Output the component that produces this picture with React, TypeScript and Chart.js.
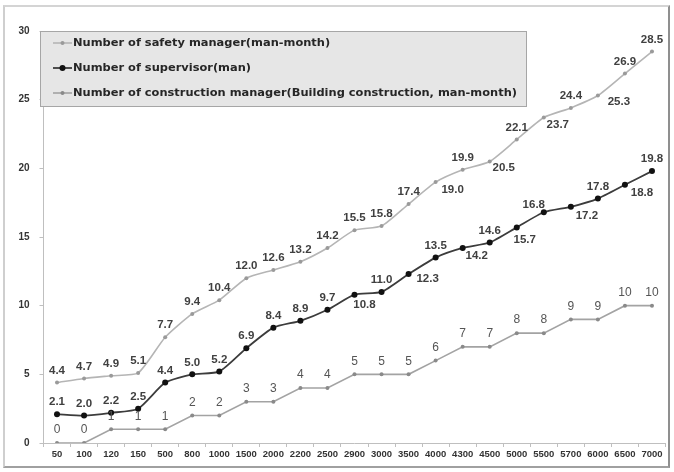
import React, { useEffect, useRef } from "react";
import { Chart, registerables } from "chart.js";

Chart.register(...registerables);

const categories = [
  "50", "100", "120", "150", "500", "800", "1000", "1500", "2000", "2200", "2500", "2900",
  "3000", "3500", "4000", "4300", "4500", "5000", "5500", "5700", "6000", "6500", "7000",
];
const safetyManager = [
  4.4, 4.7, 4.9, 5.1, 7.7, 9.4, 10.4, 12.0, 12.6, 13.2, 14.2, 15.5,
  15.8, 17.4, 19.0, 19.9, 20.5, 22.1, 23.7, 24.4, 25.3, 26.9, 28.5,
];
const supervisor = [
  2.1, 2.0, 2.2, 2.5, 4.4, 5.0, 5.2, 6.9, 8.4, 8.9, 9.7, 10.8,
  11.0, 12.3, 13.5, 14.2, 14.6, 15.7, 16.8, 17.2, 17.8, 18.8, 19.8,
];
const constructionManager = [
  0, 0, 1, 1, 1, 2, 2, 3, 3, 4, 4, 5,
  5, 5, 6, 7, 7, 8, 8, 9, 9, 10, 10,
];
const seriesNames = [
  "Number of safety manager(man-month)",
  "Number of supervisor(man)",
  "Number of construction manager(Building construction, man-month)",
];
const yMin = 0;
const yMax = 30;
const yStep = 5;

// label placement (style, not data): offsets [dx, dy] of label centre from point
const safetyOffsets: Record<number, [number, number]> = { 14: [17, 8], 16: [14, 6], 18: [14, 7], 20: [21, 6] };
const supervisorOffsets: Record<number, [number, number]> = {
  11: [10, 10], 13: [19, 5], 15: [14, 8], 17: [8, 12], 19: [16, 9], 21: [17, 8], 18: [-10, -7],
};
const FONT = "'Liberation Sans', Arial, sans-serif";

const seriesStyle = [
  { line: "#b5b5b5", point: "#9a9a9a", radius: 2, width: 1.6, tension: 0.2, labelFont: `bold 11.5px ${FONT}`, labelColor: "#404040", digits: 1, offsets: safetyOffsets, defOff: [0, -12] as [number, number] },
  { line: "#3c3c3c", point: "#111111", radius: 3, width: 1.8, tension: 0.2, labelFont: `bold 11.5px ${FONT}`, labelColor: "#404040", digits: 1, offsets: supervisorOffsets, defOff: [0, -12] as [number, number] },
  { line: "#a3a3a3", point: "#8a8a8a", radius: 2, width: 1.6, tension: 0, labelFont: `12px ${FONT}`, labelColor: "#555555", digits: 0, offsets: {} as Record<number, [number, number]>, defOff: [0, -13] as [number, number] },
];

const labelPlugin = {
  id: "pointLabels",
  afterDatasetsDraw(chart: any) {
    const ctx = chart.ctx;
    ctx.save();
    ctx.textAlign = "center";
    ctx.textBaseline = "middle";
    chart.data.datasets.forEach((ds: any, di: number) => {
      const st = seriesStyle[di];
      const meta = chart.getDatasetMeta(di);
      ctx.font = st.labelFont;
      ctx.fillStyle = st.labelColor;
      meta.data.forEach((pt: any, i: number) => {
        const v = ds.data[i] as number;
        const off = st.offsets[i] || st.defOff;
        ctx.fillText(v.toFixed(st.digits), pt.x + off[0], pt.y + off[1]);
      });
    });
    ctx.restore();
  },
};

const legendPlugin = {
  id: "boxLegend",
  afterDraw(chart: any) {
    const ctx = chart.ctx;
    ctx.save();
    const x0 = 40, y0 = 31, w = 487, h = 76;
    ctx.fillStyle = "#e6e6e6";
    ctx.fillRect(x0, y0, w, h);
    ctx.strokeStyle = "#a6a6a6";
    ctx.lineWidth = 1;
    ctx.strokeRect(x0 + 0.5, y0 + 0.5, w - 1, h - 1);
    const rows = [43, 68, 93];
    ctx.font = `bold 11px 'DejaVu Sans', sans-serif`;
    const longest = ctx.measureText(seriesNames[2]).width;
    const sx = 444 / longest;
    seriesNames.forEach((name, i) => {
      const st = seriesStyle[i];
      const y = rows[i];
      ctx.strokeStyle = st.line;
      ctx.lineWidth = st.width;
      ctx.beginPath();
      ctx.moveTo(53, y);
      ctx.lineTo(72, y);
      ctx.stroke();
      ctx.fillStyle = st.point;
      ctx.beginPath();
      ctx.arc(62.5, y, st.radius, 0, Math.PI * 2);
      ctx.fill();
      ctx.fillStyle = "#262626";
      ctx.textAlign = "left";
      ctx.textBaseline = "middle";
      ctx.save();
      ctx.translate(73, y + 0.5);
      ctx.scale(sx, 1);
      ctx.fillText(name, 0, 0);
      ctx.restore();
    });
    ctx.restore();
  },
};

export default function App() {
  const ref = useRef<HTMLCanvasElement>(null);
  useEffect(() => {
    if (!ref.current) return;
    const series = [safetyManager, supervisor, constructionManager];
    const chart = new Chart(ref.current, {
      type: "line",
      data: {
        labels: categories,
        datasets: series.map((d, i) => ({
          label: seriesNames[i],
          data: d,
          borderColor: seriesStyle[i].line,
          borderWidth: seriesStyle[i].width,
          pointRadius: seriesStyle[i].radius,
          pointBackgroundColor: seriesStyle[i].point,
          pointBorderColor: seriesStyle[i].point,
          pointBorderWidth: 0,
          tension: seriesStyle[i].tension,
          fill: false,
        })),
      },
      options: {
        responsive: false,
        animation: false,
        devicePixelRatio: 1,
        layout: { padding: { left: 0, right: 8.5, top: 31, bottom: 9 } },
        plugins: { legend: { display: false }, tooltip: { enabled: false } },
        scales: {
          x: {
            offset: true,
            grid: { offset: true, drawOnChartArea: false, tickLength: 4, color: "#bfbfbf" },
            border: { color: "#bfbfbf" },
            ticks: {
              autoSkip: false,
              maxRotation: 0,
              padding: 2,
              color: "#333333",
              font: { family: FONT, size: 9.5, weight: "bold" },
            },
            afterFit: (s: any) => { s.height = 20; },
          },
          y: {
            min: yMin,
            max: yMax,
            ticks: {
              stepSize: yStep,
              padding: 10,
              color: "#333333",
              font: { family: FONT, size: 10, weight: "bold" },
            },
            grid: { drawOnChartArea: false, tickLength: 4, color: "#bfbfbf" },
            border: { color: "#bfbfbf" },
            afterFit: (s: any) => { s.width = 43.5; },
          },
        },
      },
      plugins: [labelPlugin, legendPlugin],
    });
    return () => chart.destroy();
  }, []);

  return (
    <div style={{ position: "absolute", left: 0, top: 0, width: 674, height: 472, background: "#ffffff" }}>
      <div
        style={{
          position: "absolute", left: 3, top: 5, width: 667, height: 463, boxSizing: "border-box",
          borderTop: "2px solid #d4d4d4", borderLeft: "2px solid #cfcfcf",
          borderRight: "2px solid #8f8f8f", borderBottom: "2px solid #a0a0a0",
        }}
      />
      <canvas ref={ref} width={674} height={472} style={{ position: "absolute", left: 0, top: 0, width: 674, height: 472 }} />
    </div>
  );
}
